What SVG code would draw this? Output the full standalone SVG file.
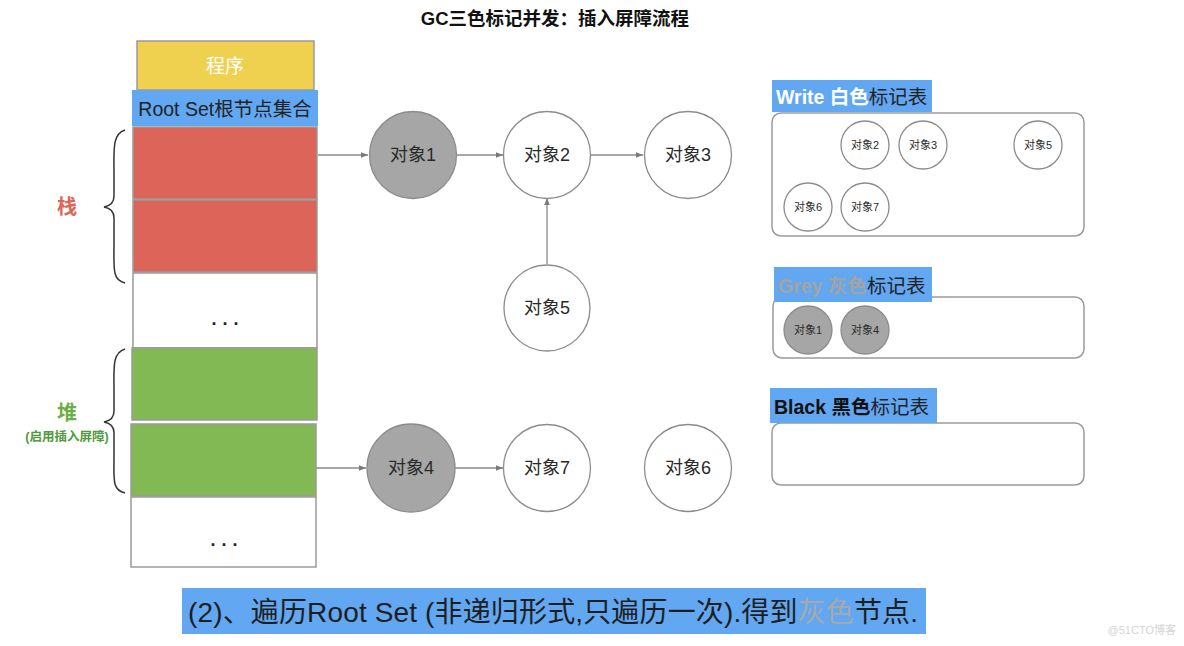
<svg xmlns="http://www.w3.org/2000/svg" width="1184" height="646" viewBox="0 0 1184 646">
<defs>
<marker id="arr" viewBox="0 0 10 10" refX="10" refY="5" markerWidth="7" markerHeight="7" markerUnits="userSpaceOnUse" orient="auto">
<path d="M0,1 L10,5 L0,9 z" fill="#7a7a7a"/>
</marker>
<style>
text{font-family:"Liberation Sans","Noto Sans CJK SC",sans-serif;}
.cell{stroke:#9a9a9a;stroke-width:1.5;}
.red{fill:#dc6459;}
.green{fill:#83b955;}
.white{fill:#ffffff;}
.dots{font-size:18px;font-weight:bold;fill:#222;text-anchor:middle;letter-spacing:6px;}
.obj{stroke:#8c8c8c;stroke-width:1.3;fill:#ffffff;}
.grey{fill:#a6a6a6;}
.big{font-size:18px;fill:#2a2a2a;text-anchor:middle;dominant-baseline:central;}
.small{font-size:11px;fill:#2a2a2a;text-anchor:middle;dominant-baseline:central;}
.conn{stroke:#8a8a8a;stroke-width:1.3;fill:none;marker-end:url(#arr);}
.brace{stroke:#333;stroke-width:1.5;fill:none;}
.lbl{fill:#62a7f2;}
.tbl{fill:#ffffff;stroke:#9a9a9a;stroke-width:1.5;}
.hd{font-size:19.5px;dominant-baseline:central;}
</style>
</defs>
<rect width="1184" height="646" fill="#ffffff"/>

<text x="555" y="18" font-size="18.5" font-weight="bold" fill="#111" text-anchor="middle" dominant-baseline="central">GC三色标记并发：插入屏障流程</text>

<g id="program">
<rect x="137" y="41" width="177" height="49" fill="#efd14f" class="cell"/>
<text x="225" y="66" font-size="19" fill="#ffffff" text-anchor="middle" dominant-baseline="central">程序</text>
</g>
<g id="rootset">
<rect x="132" y="90" width="186" height="36" fill="#62a7f2"/>
<text x="225" y="109" font-size="19.5" fill="#222" text-anchor="middle" dominant-baseline="central">Root Set根节点集合</text>
</g>
<g id="stack">
<rect x="133" y="127" width="184" height="72" class="cell red"/>
<rect x="133" y="200" width="184" height="72" class="cell red"/>
<rect x="133" y="273" width="184" height="75" class="cell white"/>
<text x="228" y="325" class="dots">...</text>
<path class="brace" d="M125,130 C112,134 114,150 114,175 L114,196 C114,203 110,206 104,207 C110,208 114,211 114,218 L114,245 C114,268 112,280 125,283"/>
<text x="67" y="207" font-size="20" font-weight="bold" fill="#dc6459" text-anchor="middle" dominant-baseline="central">栈</text>
</g>
<g id="heap">
<rect x="132" y="348" width="185" height="72" class="cell green"/>
<rect x="131" y="424" width="185" height="72" class="cell green"/>
<rect x="131" y="497" width="185" height="70" class="cell white"/>
<text x="227" y="546" class="dots">...</text>
<path class="brace" d="M125,349 C112,353 114,368 114,390 L114,411 C114,418 110,421 104,422 C110,423 114,426 114,433 L114,456 C114,480 112,490 125,493"/>
<text x="67" y="413" font-size="20" font-weight="bold" fill="#6cae45" text-anchor="middle" dominant-baseline="central">堆</text>
<text x="67" y="437" font-size="12.5" font-weight="bold" fill="#4f9a3c" text-anchor="middle" dominant-baseline="central">(启用插入屏障)</text>
</g>

<g id="connectors">
<line class="conn" x1="318" y1="155" x2="368" y2="155"/>
<line class="conn" x1="457" y1="155" x2="503" y2="155"/>
<line class="conn" x1="591" y1="155" x2="643" y2="155"/>
<line class="conn" x1="547" y1="264" x2="547" y2="198"/>
<line class="conn" x1="316" y1="468" x2="366" y2="468"/>
<line class="conn" x1="455" y1="468" x2="503" y2="468"/>
</g>

<g id="obj1"><circle cx="413" cy="155" r="43.5" class="obj grey"/><text x="413" y="155" class="big">对象1</text></g>
<g id="obj2"><circle cx="547" cy="155" r="43.5" class="obj"/><text x="547" y="155" class="big">对象2</text></g>
<g id="obj3"><circle cx="688" cy="155" r="43.5" class="obj"/><text x="688" y="155" class="big">对象3</text></g>
<g id="obj5"><circle cx="547" cy="308" r="43" class="obj"/><text x="547" y="308" class="big">对象5</text></g>
<g id="obj4"><circle cx="411" cy="468" r="44" class="obj grey"/><text x="411" y="468" class="big">对象4</text></g>
<g id="obj7"><circle cx="547" cy="468" r="43.5" class="obj"/><text x="547" y="468" class="big">对象7</text></g>
<g id="obj6"><circle cx="688" cy="468" r="43.5" class="obj"/><text x="688" y="468" class="big">对象6</text></g>

<g id="white-table">
<rect x="772" y="113" width="312" height="123" rx="9" class="tbl"/>
<rect x="772" y="80" width="160" height="32" class="lbl"/>
<text x="776" y="97" class="hd"><tspan fill="#ffffff" font-weight="bold">Write 白色</tspan><tspan fill="#222">标记表</tspan></text>
<circle cx="865" cy="145" r="24" class="obj"/><text x="865" y="145" class="small">对象2</text>
<circle cx="923" cy="145" r="24" class="obj"/><text x="923" y="145" class="small">对象3</text>
<circle cx="1038" cy="145" r="24" class="obj"/><text x="1038" y="145" class="small">对象5</text>
<circle cx="808" cy="207" r="24" class="obj"/><text x="808" y="207" class="small">对象6</text>
<circle cx="865" cy="207" r="24" class="obj"/><text x="865" y="207" class="small">对象7</text>
</g>

<g id="grey-table">
<rect x="773" y="297" width="311" height="61" rx="9" class="tbl"/>
<rect x="774" y="267" width="158" height="35" class="lbl"/>
<text x="778" y="286" class="hd"><tspan fill="#a3a3a3" font-weight="bold">Grey 灰色</tspan><tspan fill="#222">标记表</tspan></text>
<circle cx="808" cy="330" r="24" class="obj grey"/><text x="808" y="330" class="small">对象1</text>
<circle cx="865" cy="330" r="24" class="obj grey"/><text x="865" y="330" class="small">对象4</text>
</g>

<g id="black-table">
<rect x="772" y="423" width="312" height="62" rx="9" class="tbl"/>
<rect x="770" y="388" width="167" height="35" class="lbl"/>
<text x="774" y="407" class="hd"><tspan fill="#111" font-weight="bold">Black 黑色</tspan><tspan fill="#222">标记表</tspan></text>
</g>

<g id="caption">
<rect x="182" y="588" width="744" height="46" fill="#62a7f2"/>
<text x="188" y="612" font-size="28" fill="#1e1e1e" dominant-baseline="central" textLength="730" lengthAdjust="spacing">(2)、遍历Root Set (非递归形式,只遍历一次).得到<tspan fill="#a8a8a8">灰色</tspan>节点.</text>
</g>

<text x="1176" y="634" font-size="11" fill="#d4d4d4" text-anchor="end">@51CTO博客</text>
</svg>
